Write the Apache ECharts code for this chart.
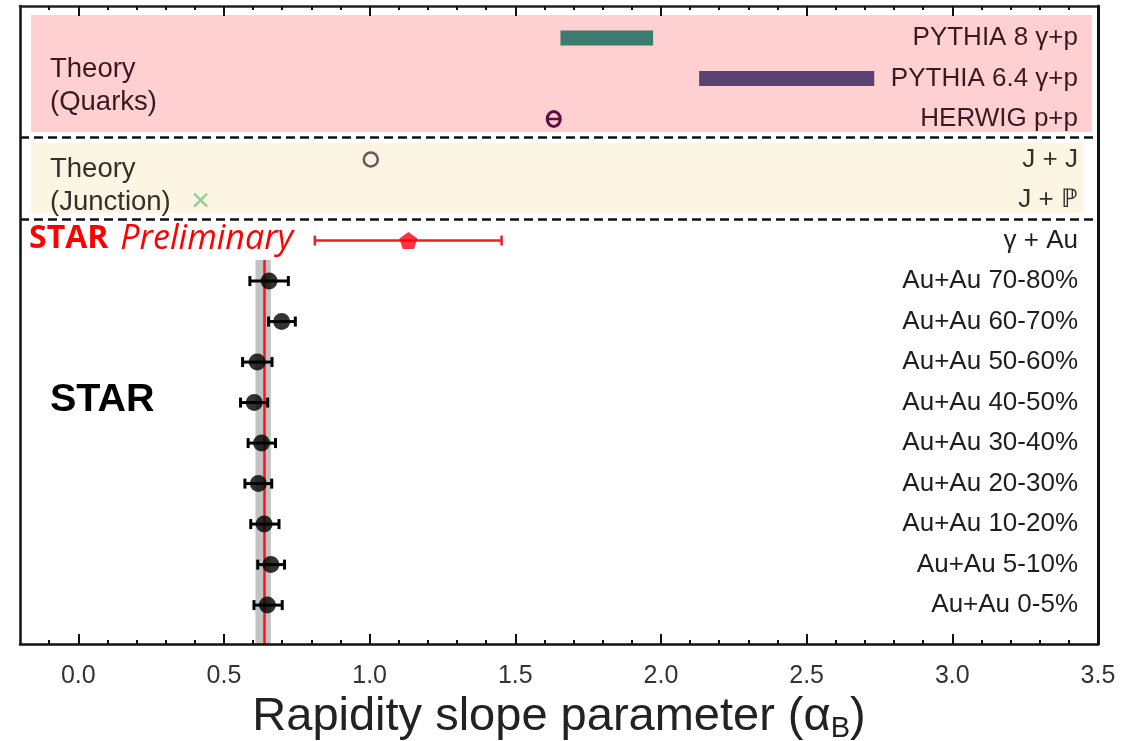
<!DOCTYPE html>
<html>
<head>
<meta charset="utf-8">
<script src="https://cdn.jsdelivr.net/npm/echarts@6/dist/echarts.min.js"></script>
<style>html,body{margin:0;padding:0;background:#fff}#chart{width:1125px;height:741px}</style>
</head>
<body>
<div id="chart"></div>
<script>
// ---- data ----
const rowLabels = ['Au+Au 0-5%','Au+Au 5-10%','Au+Au 10-20%','Au+Au 20-30%','Au+Au 30-40%','Au+Au 40-50%','Au+Au 50-60%','Au+Au 60-70%','Au+Au 70-80%','γ + Au','J + ℙ','J + J','HERWIG p+p','PYTHIA 6.4 γ+p','PYTHIA 8 γ+p'];
const auauRows = [0,1,2,3,4,5,6,7,8];
const auauValues = [0.649,0.661,0.638,0.618,0.629,0.604,0.614,0.698,0.655];
const auauLow    = [0.603,0.616,0.592,0.572,0.583,0.557,0.564,0.653,0.589];
const auauHigh   = [0.700,0.708,0.689,0.664,0.677,0.650,0.665,0.745,0.721];
const gammaAuRow = 9, gammaAuValue = 1.133, gammaAuLow = 0.812, gammaAuHigh = 1.453;
const jpRow = 10, jpValue = 0.42;
const jjRow = 11, jjValue = 1.004;
const herwigRow = 12, herwigValue = 1.632;
const pythia64Row = 13, pythia64Range = [2.131, 2.732];
const pythia8Row = 14, pythia8Range = [1.655, 1.973];
const starMean = 0.638, starBand = [0.608, 0.661];
const xTickValues = [0,0.5,1,1.5,2,2.5,3,3.5];
const xTickLabels = ['0.0','0.5','1.0','1.5','2.0','2.5','3.0','3.5'];
const xMinorTicks = [];
for (let i = -1; i <= 34; i++) { if (i % 5 !== 0) xMinorTicks.push(+(i/10).toFixed(1)); }

const FONT = 'Liberation Sans';
const X_MIN = -0.2, X_MAX = 3.5, Y_MIN = -0.96, Y_MAX = 14.79;

const chart = echarts.init(document.getElementById('chart'));

function rowColor(v){
  const r = Math.round(Number(v));
  if (r >= 12) return '#3a1a20';
  if (r >= 10) return '#333028';
  return '#1e1e1e';
}

function errBarRender(color, capH, lw){
  return function(params, api){
    const lo = api.coord([api.value(0), api.value(2)]);
    const hi = api.coord([api.value(1), api.value(2)]);
    const st = {stroke: color, lineWidth: lw};
    return {type:'group', children:[
      {type:'line', shape:{x1:lo[0],y1:lo[1],x2:hi[0],y2:hi[1]}, style:st},
      {type:'line', shape:{x1:lo[0],y1:lo[1]-capH/2,x2:lo[0],y2:lo[1]+capH/2}, style:st},
      {type:'line', shape:{x1:hi[0],y1:hi[1]-capH/2,x2:hi[0],y2:hi[1]+capH/2}, style:st}
    ]};
  };
}

const baseX = {type:'value', min:X_MIN, max:X_MAX, gridIndex:0, splitLine:{show:false}, z:10};
const option = {
  animation:false,
  backgroundColor:'#fff',
  grid:{left:20, right:27, top:6, bottom:97, containLabel:false, outerBoundsMode:'none'},
  xAxis:[
    Object.assign({}, baseX, {
      position:'bottom',
      axisLine:{show:true, onZero:false, lineStyle:{color:'#111', width:2.5}},
      axisTick:{show:true, inside:true, length:10, customValues:xTickValues, lineStyle:{color:'#111', width:2}},
      axisLabel:{customValues:xTickValues, formatter:(v)=>xTickLabels[xTickValues.indexOf(Number(v))] ?? '', fontFamily:FONT, fontSize:25, color:'#333', margin:20},
      name:'Rapidity slope parameter ({a|α}{s|B})', nameLocation:'middle', nameGap:40,
      nameTextStyle:{fontFamily:FONT, fontSize:47, color:'#222', verticalAlign:'top',
        rich:{a:{fontFamily:FONT, fontSize:47, color:'#222'}, s:{fontFamily:FONT, fontSize:29, color:'#222', padding:[24,0,0,0]}}}
    }),
    Object.assign({}, baseX, {
      position:'bottom', axisLine:{show:false, onZero:false},
      axisTick:{show:true, inside:true, length:4, customValues:xMinorTicks, lineStyle:{color:'#111', width:2}},
      axisLabel:{show:false}
    }),
    Object.assign({}, baseX, {
      position:'top',
      axisLine:{show:true, onZero:false, lineStyle:{color:'#222', width:2.5}},
      axisTick:{show:true, inside:true, length:10, customValues:xTickValues, lineStyle:{color:'#111', width:2}},
      axisLabel:{show:false}
    }),
    Object.assign({}, baseX, {
      position:'top', axisLine:{show:false, onZero:false},
      axisTick:{show:true, inside:true, length:4, customValues:xMinorTicks, lineStyle:{color:'#111', width:2}},
      axisLabel:{show:false}
    })
  ],
  yAxis:[
    {type:'value', min:Y_MIN, max:Y_MAX, position:'left', splitLine:{show:false}, z:10,
     axisLine:{show:true, onZero:false, lineStyle:{color:'#111', width:2.5}},
     axisTick:{show:false}, axisLabel:{show:false}},
    {type:'value', min:Y_MIN, max:Y_MAX, position:'right', splitLine:{show:false}, z:10,
     axisLine:{show:true, onZero:false, lineStyle:{color:'#111', width:3}},
     axisTick:{show:false},
     axisLabel:{show:true, inside:true, margin:20, customValues:rowLabels.map((_,i)=>i),
       formatter:(v)=>rowLabels[Math.round(Number(v))] ?? '', fontFamily:FONT, fontSize:26, color:rowColor}}
  ],
  graphic:[
    {type:'text', left:50, top:53, z:50, style:{text:'Theory\n(Quarks)', fontFamily:FONT, fontSize:27.5, lineHeight:33, fill:'#3a1a20'}},
    {type:'text', left:50, top:153, z:50, style:{text:'Theory\n(Junction)', fontFamily:FONT, fontSize:27.5, lineHeight:33, fill:'#333028'}},
    {type:'text', left:50, top:380, z:50, style:{text:'STAR', fontFamily:FONT, fontSize:39.5, fontWeight:'bold', fill:'#000'}},
    {type:'text', left:29, top:222, z:50, style:{text:'{b|STAR}{i|Preliminary}',
      rich:{b:{fontFamily:'Open Sans', fontSize:32, fontWeight:'bold', fill:'#ff0000', color:'#ff0000'},
            i:{fontFamily:'Open Sans', fontSize:34, fontStyle:'italic', fill:'#ff0000', color:'#ff0000', padding:[0,0,0,12]}}}}
  ],
  series:[
    // background regions and separators
    {type:'line', xAxisIndex:0, yAxisIndex:0, data:[], z:0, silent:true,
     markArea:{silent:true, data:[
       [{coord:[-0.162, 14.57], itemStyle:{color:'#fed0d2'}}, {coord:[3.479, 11.68]}],
       [{coord:[-0.162, 11.41], itemStyle:{color:'#fdf5e3'}}, {coord:[3.451, 9.68]}],
       [{coord:[starBand[0], 8.52], itemStyle:{color:'#c3c3c3'}}, {coord:[starBand[1], Y_MIN]}]
     ]},
     markLine:{silent:true, symbol:'none', label:{show:false}, data:[
       {yAxis:11.56, lineStyle:{color:'#111', width:2.5, type:[9,5]}},
       {yAxis:9.53, lineStyle:{color:'#111', width:2.5, type:[9,5]}},
       [{coord:[starMean, 8.52], lineStyle:{color:'#ff1020', width:2.5, type:'solid'}}, {coord:[starMean, Y_MIN]}]
     ]}
    },
    // PYTHIA bars
    {type:'custom', xAxisIndex:0, yAxisIndex:0, z:5,
     data:[
       {value:[pythia8Range[0], pythia8Range[1], pythia8Row], itemStyle:{color:'#3e7b6f'}},
       {value:[pythia64Range[0], pythia64Range[1], pythia64Row], itemStyle:{color:'#5b4270'}}
     ],
     renderItem:function(params, api){
       const a = api.coord([api.value(0), api.value(2)]);
       const b = api.coord([api.value(1), api.value(2)]);
       return {type:'rect', shape:{x:a[0], y:a[1]-7.5, width:b[0]-a[0], height:15}, style:{fill:api.visual('color')}};
     }},
    // HERWIG theta marker
    {type:'custom', xAxisIndex:0, yAxisIndex:0, z:5, data:[[herwigValue, herwigRow]],
     renderItem:function(params, api){
       const p = api.coord([api.value(0), api.value(1)]);
       return {type:'group', children:[
         {type:'ellipse', shape:{cx:p[0], cy:p[1], rx:6.5, ry:7.5}, style:{fill:'none', stroke:'#5a0f3f', lineWidth:3}},
         {type:'line', shape:{x1:p[0]-6.5, y1:p[1], x2:p[0]+6.5, y2:p[1]}, style:{stroke:'#5a0f3f', lineWidth:2.5}}
       ]};
     }},
    // J+J open circle
    {type:'scatter', xAxisIndex:0, yAxisIndex:0, z:5, data:[[jjValue, jjRow]], symbol:'circle', symbolSize:14,
     itemStyle:{color:'rgba(0,0,0,0)', borderColor:'#4a2c3c', borderWidth:2.5}},
    // J+P cross
    {type:'scatter', xAxisIndex:0, yAxisIndex:0, z:5, data:[[jpValue, jpRow]],
     symbol:'path://M0,0 L10,10 M10,0 L0,10', symbolSize:13,
     itemStyle:{color:'rgba(0,0,0,0)', borderColor:'#7cc47f', borderWidth:2.5}},
    // gamma+Au error bar
    {type:'custom', xAxisIndex:0, yAxisIndex:0, z:6, data:[[gammaAuLow, gammaAuHigh, gammaAuRow]],
     renderItem:errBarRender('#ee1c25', 10, 2.5)},
    {type:'scatter', xAxisIndex:0, yAxisIndex:0, z:7, data:[[gammaAuValue, gammaAuRow]],
     symbol:'path://M50,0 L97.55,34.55 L79.39,90.45 L20.61,90.45 L2.45,34.55 Z', symbolSize:[18,17],
     itemStyle:{color:'#ff0010'}},
    // Au+Au error bars
    {type:'custom', xAxisIndex:0, yAxisIndex:0, z:6,
     data:auauRows.map((r,i)=>[auauLow[i], auauHigh[i], r]),
     renderItem:errBarRender('#000', 10, 3)},
    {type:'scatter', xAxisIndex:0, yAxisIndex:0, z:7,
     data:auauRows.map((r,i)=>[auauValues[i], r]), symbol:'circle', symbolSize:17,
     itemStyle:{color:'#000'}}
  ]
};
chart.setOption(option);
</script>
</body>
</html>
